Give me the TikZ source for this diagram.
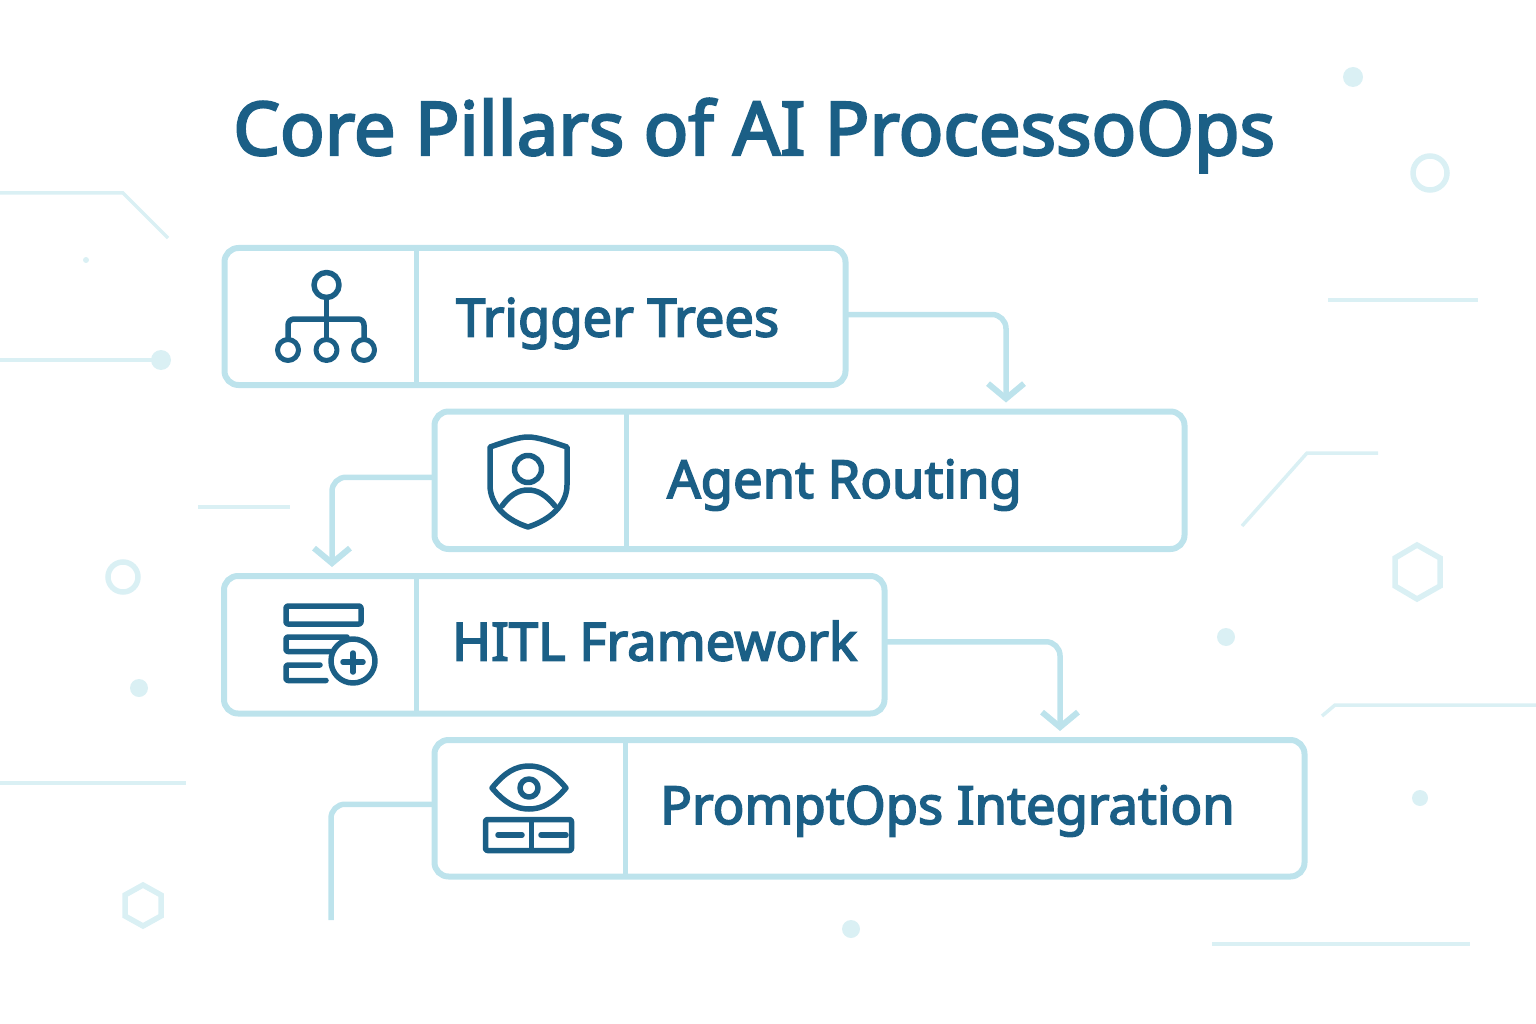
\documentclass[tikz,border=0pt]{standalone}
\usepackage{xcolor}
\usepackage{fontspec}
\usepackage{tikz}
\usetikzlibrary{arrows.meta}
\newfontfamily\pillarfont[FakeBold=3.2]{Noto Sans}
\definecolor{pillarblue}{HTML}{1B5F86}
\definecolor{boxline}{HTML}{BDE3EC}
\definecolor{decor}{HTML}{DAF0F4}
\tikzset{
  pillarbox/.style={draw=boxline, line width=6pt, rounded corners=14pt, inner sep=0pt, outer sep=0pt},
  divider/.style={draw=boxline, line width=5pt},
  flow/.style={draw=boxline, line width=5.5pt, rounded corners=14pt},
  flowtip/.style={flow, -{Straight Barb[length=15pt,width=36pt,line width=6pt]}, shorten >=9pt},
  pillartext/.style={anchor=base west, inner sep=0pt, text=pillarblue, font=\pillarfont\fontsize{52.5}{60}\selectfont},
  icon/.style={draw=pillarblue, line width=5.5pt, line cap=round, line join=round},
  decorline/.style={draw=decor, line width=3.5pt},
  decordot/.style={fill=decor, draw=none},
  decorring/.style={draw=decor, line width=5.5pt}
}
\begin{document}
\begin{tikzpicture}[x=1pt, y=-1pt]
    \useasboundingbox (0, 0) rectangle (1536, 1024);
    % background traces
    \draw[decorline] (0, 193) -- (123, 193) -- (168, 238);
    \fill[decordot] (86, 260) circle (3);
    \draw[decorline] (0, 360) -- (160, 360);
    \fill[decordot] (161, 360) circle (10);
    \draw[decorline] (198, 507) -- (290, 507);
    \draw[decorring] (123, 577) circle (15);
    \fill[decordot] (139, 688) circle (9);
    \draw[decorline] (0, 783) -- (186, 783);
    \draw[decorring] (143, 885) -- (161, 895) -- (161, 916) -- (143, 926) -- (125, 916) -- (125, 895) -- cycle;
    \fill[decordot] (851, 929) circle (9);
    \draw[decorline] (1212, 944) -- (1470, 944);
    \fill[decordot] (1420, 798) circle (8);
    \draw[decorline] (1322, 716) -- (1335, 705) -- (1536, 705);
    \fill[decordot] (1226, 637) circle (9);
    \draw[decorring] (1417, 545) -- (1440, 558) -- (1440, 586) -- (1417, 599) -- (1395, 586) -- (1395, 558) -- cycle;
    \draw[decorline] (1242, 526) -- (1307, 453) -- (1378, 453);
    \draw[decorline] (1328, 300) -- (1478, 300);
    \draw[decorring] (1430, 173) circle (17);
    \fill[decordot] (1353, 77) circle (10);

    \node[anchor=base west, inner sep=0pt, text=pillarblue, font=\pillarfont\fontsize{74}{80}\selectfont] (title) at (233, 155) {Core Pillars of AI ProcessoOps};

    % pillars
    \node[pillarbox, minimum width=621pt, minimum height=137pt] (trigger) at (535, 316.5) {};
    \node[pillarbox, minimum width=750pt, minimum height=137.5pt] (agent) at (809.5, 480.25) {};
    \node[pillarbox, minimum width=660.5pt, minimum height=137.5pt] (hitl) at (554.25, 644.75) {};
    \node[pillarbox, minimum width=870pt, minimum height=136.5pt] (promptops) at (869.5, 808.25) {};

    \draw[divider] ([xshift=-118.3pt]trigger.north) -- ([xshift=-118.3pt]trigger.south);
    \draw[divider] ([xshift=-183.5pt]agent.north) -- ([xshift=-183.5pt]agent.south);
    \draw[divider] ([xshift=-137.5pt]hitl.north) -- ([xshift=-137.5pt]hitl.south);
    \draw[divider] ([xshift=-244.5pt]promptops.north) -- ([xshift=-244.5pt]promptops.south);

    \node[pillartext] (triggertext) at (456, 336.5) {Trigger Trees};
    \node[pillartext] (agenttext) at (667, 498) {Agent Routing};
    \node[pillartext] (hitltext) at (452, 660.5) {HITL Framework};
    \node[pillartext] (promptopstext) at (660, 824) {PromptOps Integration};

    % connectors
    \coordinate (tail) at (331, 920);
    \draw[flowtip] ([yshift=2pt]trigger.east) -| ([xshift=196.5pt]agent.north);
    \draw[flowtip] ([yshift=3pt]agent.west) -| ([xshift=-222.25pt]hitl.north);
    \draw[flowtip] ([yshift=3pt]hitl.east) -| ([xshift=190.5pt]promptops.north);
    \draw[flow] ([yshift=4pt]promptops.west) -| (tail);

    % tree icon
    \draw[icon] (326.5, 285) circle (12.5);
    \draw[icon] (326.5, 297.5) -- (326.5, 339);
    \draw[icon, rounded corners=6pt] (288, 339) -- (288, 319) -- (364, 319) -- (364, 339);
    \draw[icon, line width=5pt] (288, 350) circle (10.5);
    \draw[icon, line width=5pt] (326.5, 350) circle (10.5);
    \draw[icon, line width=5pt] (364, 350) circle (10.5);

    % shield icon
    \draw[icon] (490, 447) .. controls (505, 442) and (518, 437) .. (528, 437) .. controls (538, 437) and (552, 442) .. (567, 447) -- (567, 485) .. controls (567, 505) and (550, 520) .. (528, 527) .. controls (506, 520) and (490, 505) .. (490, 485) -- cycle;
    \draw[icon] (528, 469) circle (13.5);
    \draw[icon] (502, 506) .. controls (510, 495) and (518, 490) .. (528, 490) .. controls (538, 490) and (546, 495) .. (555, 506);

    % form icon
    \draw[icon, rounded corners=2pt] (286, 606) rectangle (361, 624);
    \draw[icon, rounded corners=2pt] (347, 637) -- (286, 637) -- (286, 651.5) -- (332, 651.5);
    \draw[icon, rounded corners=2pt] (320, 665) -- (286, 665) -- (286, 680.5) -- (326, 680.5);
    \draw[icon] (353, 661) circle (22);
    \draw[icon] (343, 662) -- (363, 662);
    \draw[icon] (353, 653) -- (353, 672);

    % eye icon
    \draw[icon] (492, 788) .. controls (505, 772) and (516, 766) .. (529, 766) .. controls (542, 766) and (553, 772) .. (566, 788) .. controls (553, 803) and (542, 809) .. (529, 809) .. controls (516, 809) and (505, 803) .. (492, 788) -- cycle;
    \draw[icon] (529, 788) circle (9);
    \draw[icon, rounded corners=2pt] (485.5, 819.5) rectangle (571.5, 850.5);
    \draw[icon] (531.5, 820) -- (531.5, 850);
    \draw[icon] (498, 835) -- (522, 835);
    \draw[icon] (541, 835) -- (566, 835);
\end{tikzpicture}
\end{document}
